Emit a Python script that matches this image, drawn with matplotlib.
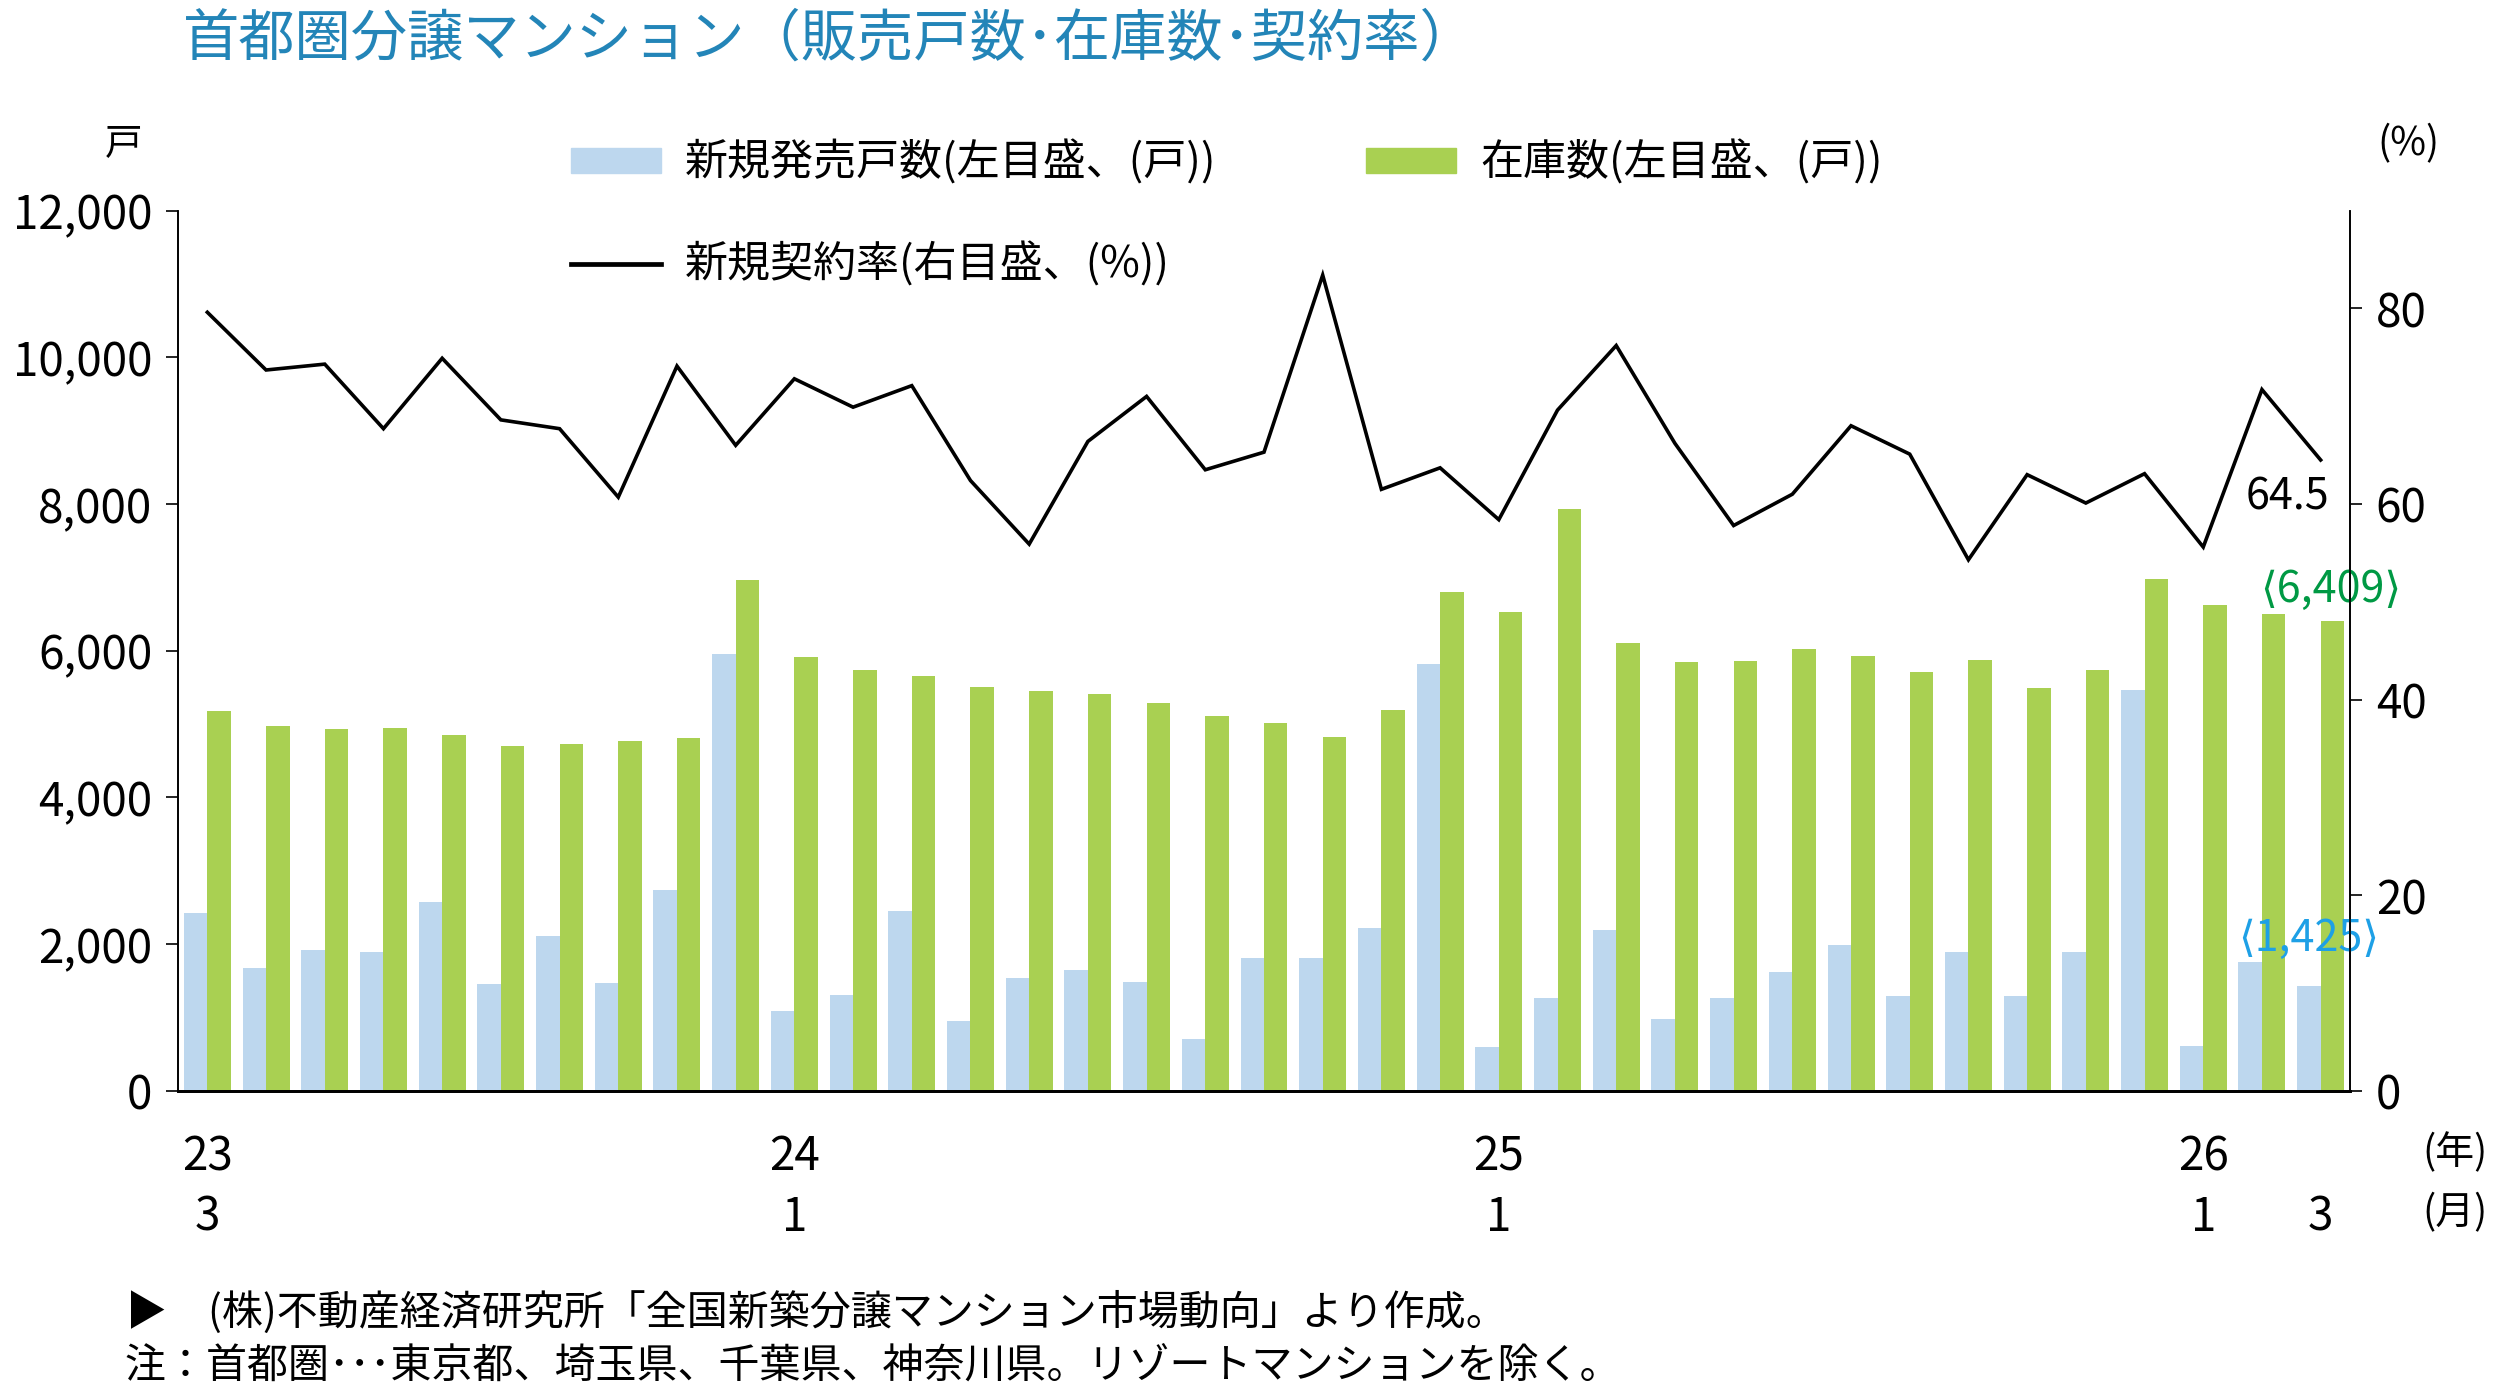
# 首都圏分譲マンション（販売戸数・在庫数・契約率）の再現

import numpy as np
import matplotlib
matplotlib.use('Agg')
import matplotlib.pyplot as plt
from matplotlib.patches import Patch
from matplotlib.lines import Line2D

plt.rcParams['font.family'] = ['Noto Sans CJK JP', 'DejaVu Sans']

# --- データ（2023年3月〜2026年3月） ---
months = ['23/3', '23/4', '23/5', '23/6', '23/7', '23/8', '23/9', '23/10', '23/11', '23/12',
          '24/1', '24/2', '24/3', '24/4', '24/5', '24/6', '24/7', '24/8', '24/9', '24/10',
          '24/11', '24/12', '25/1', '25/2', '25/3', '25/4', '25/5', '25/6', '25/7', '25/8',
          '25/9', '25/10', '25/11', '25/12', '26/1', '26/2', '26/3']
new_supply = [2425, 1679, 1919, 1893, 2581, 1455, 2107, 1476, 2738, 5961,
              1095, 1304, 2446, 960, 1533, 1653, 1481, 714, 1815, 1815,
              2216, 5815, 600, 1272, 2196, 986, 1272, 1627, 1992, 1288,
              1893, 1299, 1893, 5460, 610, 1752, 1425]
inventory = [5179, 4975, 4933, 4949, 4845, 4704, 4730, 4767, 4808, 6967,
             5914, 5742, 5658, 5512, 5455, 5408, 5293, 5105, 5017, 4819,
             5199, 6806, 6524, 7936, 6112, 5851, 5867, 6023, 5935, 5710,
             5872, 5486, 5731, 6978, 6623, 6498, 6409]
contract_rate = [79.6, 73.7, 74.3, 67.7, 74.9, 68.6, 67.7, 60.7, 74.1, 66.0,
                 72.8, 69.9, 72.1, 62.4, 55.9, 66.4, 71.0, 63.5, 65.3, 83.4,
                 61.5, 63.7, 58.4, 69.6, 76.2, 66.2, 57.8, 61.0, 68.0, 65.1,
                 54.3, 63.0, 60.1, 63.1, 55.6, 71.7, 64.5]
xtick_labels = {'23/3': '23\n3', '24/1': '24\n1', '25/1': '25\n1',
                '26/1': '26\n1', '26/3': '\n3'}

BLUE = '#bdd7ee'
GREEN = '#a9d052'
TITLE_C = '#2385b8'

x = np.arange(len(months))

fig = plt.figure(figsize=(25, 13.99), dpi=100)
ax = fig.add_axes([0.0712, 0.2202, 0.9400 - 0.0712, 0.8495 - 0.2202])
ax2 = ax.twinx()

# --- 棒グラフ ---
ax.bar(x - 0.2, new_supply, width=0.4, color=BLUE, zorder=2)
ax.bar(x + 0.2, inventory, width=0.4, color=GREEN, zorder=2)
ax.set_xlim(-0.5, len(months) - 0.5)
ax.set_ylim(0, 12000)
ax.set_yticks(np.arange(0, 12001, 2000))
ax.set_yticklabels([f'{v:,}' for v in range(0, 12001, 2000)])

# --- 契約率 ---
ax2.plot(x, contract_rate, color='black', lw=2.6, solid_joinstyle='miter')
ax2.set_ylim(0, 90)
ax2.set_yticks([0, 20, 40, 60, 80])

for a in (ax, ax2):
    a.spines['top'].set_visible(False)
    a.spines['left'].set_linewidth(1.2)
    a.spines['right'].set_linewidth(1.2)
    a.spines['bottom'].set_linewidth(2.0)
    a.tick_params(axis='y', labelsize=33, length=8.5, width=1.2, pad=10)

pos = [months.index(m) for m in xtick_labels]
ax.set_xticks(pos)
ax.set_xticklabels(list(xtick_labels.values()), fontsize=33, linespacing=1.32)
ax.tick_params(axis='x', length=0, pad=30)

# --- 注記 ---
ax2.annotate(f'{contract_rate[-1]}', xy=(x[-1], contract_rate[-1]), xytext=(-24, -27),
             textcoords='offset points', ha='center', va='center', fontsize=31)
ax.annotate(f'⟨{inventory[-1]:,}⟩', xy=(x[-1] + 0.2, inventory[-1]), xytext=(-1, 22),
            textcoords='offset points', ha='center', va='center', fontsize=31,
            color='#009944')
ax.annotate(f'⟨{new_supply[-1]:,}⟩', xy=(x[-1] - 0.2, new_supply[-1]), xytext=(0, 34),
            textcoords='offset points', ha='center', va='center', fontsize=31,
            color='#1ea0e6')

# --- 凡例 ---
leg_kw = dict(frameon=False, fontsize=31, handlelength=2.1, handleheight=0.5,
              handletextpad=0.55, borderpad=0, borderaxespad=0, loc='center left')
fig.legend(handles=[Patch(color=BLUE, label='新規発売戸数(左目盛、(戸))')],
           bbox_to_anchor=(571 / 2500, 1 - 163 / 1399), **leg_kw)
fig.legend(handles=[Patch(color=GREEN, label='在庫数(左目盛、(戸))')],
           bbox_to_anchor=(1366 / 2500, 1 - 163 / 1399), **leg_kw)
fig.legend(handles=[Line2D([], [], color='black', lw=3.4, label='新規契約率(右目盛、(%))')],
           bbox_to_anchor=(571 / 2500, 1 - 265 / 1399), **leg_kw)

# --- タイトル・単位・出典 ---
fig.text(183 / 2500, 1 - 40 / 1399, '首都圏分譲マンション（販売戸数･在庫数･契約率）',
         fontsize=40.5, color=TITLE_C, va='center', ha='left')
fig.text(124 / 2500, 1 - 145 / 1399, '戸', fontsize=27, ha='center', va='center')
fig.text(2408 / 2500, 1 - 144 / 1399, '(%)', fontsize=28, ha='center', va='center')
fig.text(2455 / 2500, 1 - 1153 / 1399, '(年)', fontsize=28, ha='center', va='center')
fig.text(2455 / 2500, 1 - 1213 / 1399, '(月)', fontsize=28, ha='center', va='center')
fig.text(126 / 2500, 1 - 1312 / 1399,
         '▶\u3000(株)不動産経済研究所「全国新築分譲マンション市場動向」より作成。',
         fontsize=29.5, ha='left', va='center')
fig.text(124 / 2500, 1 - 1367 / 1399,
         '注：首都圏･･･東京都、埼玉県、千葉県、神奈川県。リゾートマンションを除く。',
         fontsize=29.5, ha='left', va='center')

fig.savefig('out.png', dpi=100)
